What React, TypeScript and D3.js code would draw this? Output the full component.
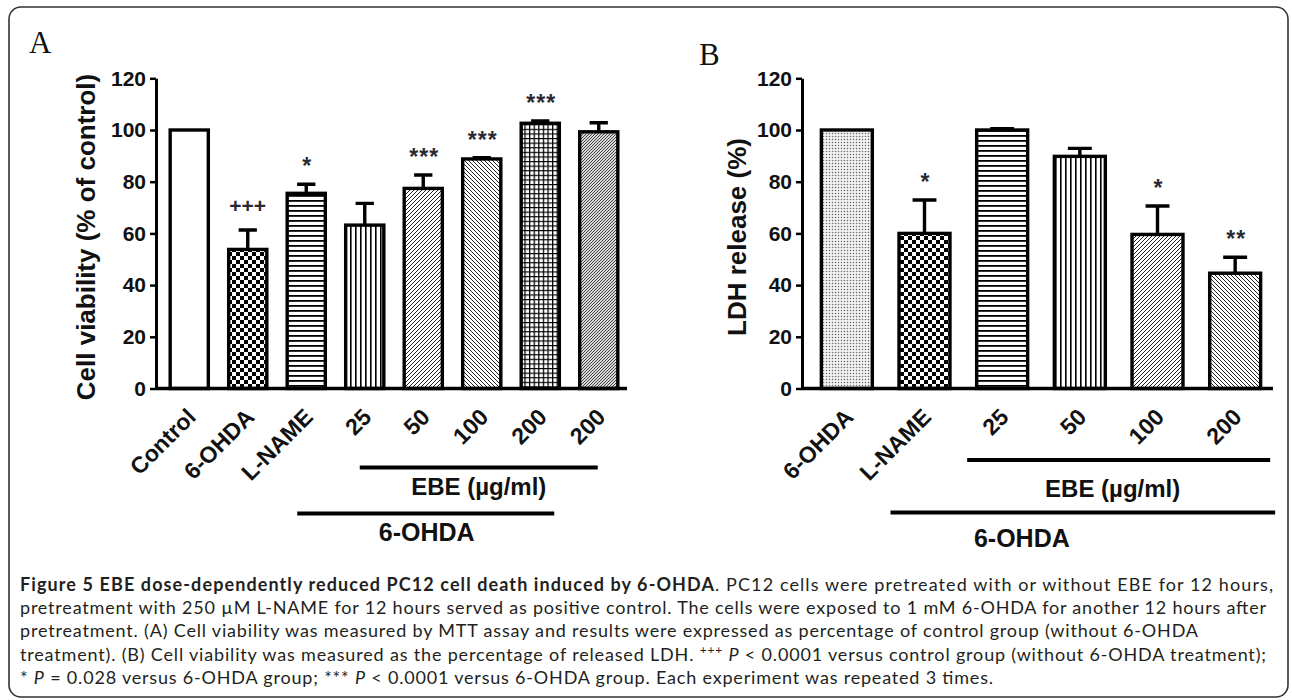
import React, { useEffect, useRef } from 'react'
import * as d3 from 'd3'

// panel A: cell viability (% of control)
const groupsA = ['Control', '6-OHDA', 'L-NAME', '25', '50', '100', '200', '200']
const viability = [100, 53.8, 75.5, 63.2, 77.4, 88.8, 102.6, 99.3]
const viabilitySem = [0, 7.5, 3.5, 8.4, 5.2, 0.5, 0.9, 3.5]
const marksA = ['', '+++', '*', '', '***', '***', '***', '']

// panel B: LDH release (%)
const groupsB = ['6-OHDA', 'L-NAME', '25', '50', '100', '200']
const ldhRelease = [100, 60, 100, 89.8, 59.6, 44.6]
const ldhSem = [0, 12.9, 0.5, 3.1, 11, 6.2]
const marksB = ['', '*', '', '', '*', '**']

const yTicks = [0, 20, 40, 60, 80, 100, 120]

// fill pattern of each bar
const fillsA = ['white', 'checker', 'hlines', 'vlines', 'diagUp', 'diagDown', 'grid', 'fineDiag']
const fillsB = ['dots', 'checker', 'hlines', 'vlines', 'diagUp', 'diagDown']

const SANS = '"Liberation Sans", Arial, sans-serif'
const INK = '#111'

interface PanelOpts {
    letter: string
    letterX: number
    letterY: number
    title: string
    titleX: number
    groups: string[]
    values: number[]
    sem: number[]
    marks: string[]
    fills: string[]
    axisX: number
    xRange: [number, number]
    axisEnd: number
    padInner: number
    ebe: [number, number, number] // first idx, last idx, y
    ebeOffsets: [number, number]
    ebeTextY: number
    ebeTextDx: number
    ohda: [number, number, number]
    ohdaOffsets: [number, number]
    ohdaTextY: number
    ohdaTextDx: number
}

function addPatterns(defs: d3.Selection<SVGDefsElement, unknown, null, undefined>) {
    const pat = (id: string, w: number, h: number) => {
        const p = defs
            .append('pattern')
            .attr('id', id)
            .attr('patternUnits', 'userSpaceOnUse')
            .attr('width', w)
            .attr('height', h)
        p.append('rect').attr('width', w).attr('height', h).attr('fill', '#fff')
        return p
    }
    pat('white', 4, 4)

    const checker = pat('checker', 8, 8)
    checker.append('rect').attr('width', 4).attr('height', 4).attr('fill', '#000')
    checker.append('rect').attr('x', 4).attr('y', 4).attr('width', 4).attr('height', 4).attr('fill', '#000')

    const h = pat('hlines', 5, 5)
    h.append('rect').attr('width', 5).attr('height', 1.8).attr('fill', '#000')

    const v = pat('vlines', 5, 5)
    v.append('rect').attr('width', 1.6).attr('height', 5).attr('fill', '#000')

    const up = pat('diagUp', 4, 4)
    up.append('path').attr('d', 'M-1,1 l2,-2 M0,4 l4,-4 M3,5 l2,-2').attr('stroke', '#222').attr('stroke-width', 1)

    const down = pat('diagDown', 4, 4)
    down.append('path').attr('d', 'M-1,3 l2,2 M0,0 l4,4 M3,-1 l2,2').attr('stroke', '#222').attr('stroke-width', 1)

    const grid = pat('grid', 4.6, 4.6)
    grid.append('path').attr('d', 'M0,0.6 H4.6 M0.6,0 V4.6').attr('stroke', '#000').attr('stroke-width', 1.3)

    const fine = pat('fineDiag', 3, 3)
    fine.select('rect').attr('fill', '#d8d8d8')
    fine.append('path').attr('d', 'M-1,1 l2,-2 M0,3 l3,-3 M2,4 l2,-2').attr('stroke', '#333').attr('stroke-width', 0.9)

    const dots = pat('dots', 3, 3)
    dots.select('rect').attr('fill', '#f2f2f2')
    dots.append('circle').attr('cx', 1.5).attr('cy', 1.5).attr('r', 0.75).attr('fill', '#666')
}

function drawPanel(svg: d3.Selection<SVGGElement, unknown, null, undefined>, o: PanelOpts) {
    const y = d3.scaleLinear().domain([0, 120]).range([388.5, 78.3])
    const x = d3
        .scaleBand<number>()
        .domain(d3.range(o.groups.length))
        .range(o.xRange)
        .paddingInner(o.padInner)
        .paddingOuter(o.padInner / 2)
    const bw = x.bandwidth()
    const cx = (i: number) => (x(i) ?? 0) + bw / 2

    const g = svg.append('g')

    // panel letter
    g.append('text')
        .attr('x', o.letterX)
        .attr('y', o.letterY)
        .attr('font-family', '"Liberation Serif", "Times New Roman", serif')
        .attr('font-size', 31)
        .attr('fill', INK)
        .text(o.letter)

    // y axis
    const yAxis = d3.axisLeft(y).tickValues(yTicks).tickSize(6).tickSizeOuter(0).tickPadding(4)
    const ag = g.append('g').attr('transform', `translate(${o.axisX},0)`).call(yAxis)
    ag.select('.domain').attr('stroke', '#000').attr('stroke-width', 3)
    ag.selectAll('.tick line').attr('stroke', '#000').attr('stroke-width', 2.5)
    ag.selectAll('.tick text')
        .attr('font-family', SANS)
        .attr('font-weight', 'bold')
        .attr('font-size', 21)
        .attr('fill', INK)

    // y title
    g.append('text')
        .attr('transform', `translate(${o.titleX},${(78 + 388) / 2 + 4}) rotate(-90)`)
        .attr('text-anchor', 'middle')
        .attr('font-family', SANS)
        .attr('font-weight', 'bold')
        .attr('font-size', 26)
        .attr('fill', INK)
        .text(o.title)

    // error bars
    const idx = d3.range(o.groups.length).filter((i) => o.sem[i] > 0)
    g.selectAll('.err')
        .data(idx)
        .enter()
        .append('path')
        .attr('d', (i) => {
            const top = y(o.values[i] + o.sem[i])
            return `M${cx(i)},${y(o.values[i])} V${top} M${cx(i) - bw * 0.22},${top} H${cx(i) + bw * 0.22}`
        })
        .attr('stroke', '#000')
        .attr('stroke-width', 3.4)
        .attr('fill', 'none')

    // bars
    g.selectAll('.bar')
        .data(o.values)
        .enter()
        .append('rect')
        .attr('x', (_, i) => (x(i) ?? 0) + 1.7)
        .attr('y', (d) => y(d))
        .attr('width', bw - 3.4)
        .attr('height', (d) => y(0) - y(d))
        .attr('fill', (_, i) => `url(#${o.fills[i]})`)
        .attr('stroke', '#000')
        .attr('stroke-width', 3.4)

    // significance marks
    const isPlus = (i: number) => o.marks[i].startsWith('+')
    g.selectAll('.mark')
        .data(d3.range(o.groups.length).filter((i) => o.marks[i]))
        .enter()
        .append('text')
        .attr('x', (i) => cx(i) + (isPlus(i) ? 0 : 1))
        .attr('y', (i) => y(o.values[i] + o.sem[i]) - (isPlus(i) ? 17 : 10))
        .attr('text-anchor', 'middle')
        .attr('font-family', SANS)
        .attr('font-weight', 'bold')
        .attr('font-size', (i) => (isPlus(i) ? 21 : 23))
        .attr('letter-spacing', (i) => (isPlus(i) ? 0 : 1))
        .attr('fill', '#2a2a33')
        .text((i) => o.marks[i])

    // x axis line
    g.append('line')
        .attr('x1', o.axisX)
        .attr('x2', o.axisEnd)
        .attr('y1', y(0))
        .attr('y2', y(0))
        .attr('stroke', '#000')
        .attr('stroke-width', 3.4)

    // x labels, rotated
    g.selectAll('.xl')
        .data(o.groups)
        .enter()
        .append('text')
        .attr('transform', (_, i) => `translate(${cx(i) + 8},${y(0) + 30}) rotate(-45)`)
        .attr('text-anchor', 'end')
        .attr('font-family', SANS)
        .attr('font-weight', 'bold')
        .attr('font-size', 23)
        .attr('fill', INK)
        .text((d) => d)

    // group brackets
    const [e0, e1, ey] = o.ebe
    g.append('line')
        .attr('x1', cx(e0) + o.ebeOffsets[0])
        .attr('x2', cx(e1) + o.ebeOffsets[1])
        .attr('y1', ey)
        .attr('y2', ey)
        .attr('stroke', '#000')
        .attr('stroke-width', 4)
    g.append('text')
        .attr('x', (cx(e0) + o.ebeOffsets[0] + cx(e1) + o.ebeOffsets[1]) / 2 + o.ebeTextDx)
        .attr('y', o.ebeTextY)
        .attr('text-anchor', 'middle')
        .attr('font-family', SANS)
        .attr('font-weight', 'bold')
        .attr('font-size', 24)
        .attr('fill', INK)
        .text('EBE (µg/ml)')

    const [h0, h1, hy] = o.ohda
    g.append('line')
        .attr('x1', cx(h0) + o.ohdaOffsets[0])
        .attr('x2', cx(h1) + o.ohdaOffsets[1])
        .attr('y1', hy)
        .attr('y2', hy)
        .attr('stroke', '#000')
        .attr('stroke-width', 4)
    g.append('text')
        .attr('x', (cx(h0) + o.ohdaOffsets[0] + cx(h1) + o.ohdaOffsets[1]) / 2 + o.ohdaTextDx)
        .attr('y', o.ohdaTextY)
        .attr('text-anchor', 'middle')
        .attr('font-family', SANS)
        .attr('font-weight', 'bold')
        .attr('font-size', 25)
        .attr('fill', INK)
        .text('6-OHDA')
}

export default function App() {
    const svgRef = useRef<SVGSVGElement>(null)

    useEffect(() => {
        if (!svgRef.current) return
        const svg = d3.select(svgRef.current)
        svg.select('g.charts').remove()
        const root = svg.append('g').attr('class', 'charts')
        addPatterns(root.append('defs'))

        drawPanel(root, {
            letter: 'A',
            letterX: 29,
            letterY: 53,
            title: 'Cell viability (% of control)',
            titleX: 95,
            groups: groupsA,
            values: viability,
            sem: viabilitySem,
            marks: marksA,
            fills: fillsA,
            axisX: 156,
            xRange: [160, 628],
            axisEnd: 627,
            padInner: 0.29,
            ebe: [3, 7, 467.5],
            ebeOffsets: [-5, -1],
            ebeTextY: 495,
            ebeTextDx: 0,
            ohda: [2, 6, 513.5],
            ohdaOffsets: [-9, 14],
            ohdaTextY: 541,
            ohdaTextDx: 1,
        })

        drawPanel(root, {
            letter: 'B',
            letterX: 699,
            letterY: 65,
            title: 'LDH release (%)',
            titleX: 746,
            groups: groupsB,
            values: ldhRelease,
            sem: ldhSem,
            marks: marksB,
            fills: fillsB,
            axisX: 802,
            xRange: [808, 1274],
            axisEnd: 1273,
            padInner: 0.3,
            ebe: [2, 5, 460],
            ebeOffsets: [-35, 35],
            ebeTextY: 497,
            ebeTextDx: -6,
            ohda: [1, 5, 512.5],
            ohdaOffsets: [-34, 40],
            ohdaTextY: 547,
            ohdaTextDx: -61,
        })
    }, [])

    const cap = { fontFamily: 'Lato, "Open Sans", sans-serif', fontSize: 18, fill: '#231f20' }
    const x0 = 20
    return (
        <svg
            ref={svgRef}
            width={1292}
            height={700}
            style={{ position: 'absolute', left: 0, top: 0, background: '#fff' }}
        >
            <rect x={9} y={7} width={1279} height={690} rx={12} fill="none" stroke="#333" strokeWidth={1.6} />
            <text x={x0} y={591} {...cap} textLength={1253} lengthAdjust="spacing">
                <tspan fontWeight="bold">
                    Figure 5 EBE dose-dependently reduced PC12 cell death induced by 6-OHDA
                </tspan>
                . PC12 cells were pretreated with or without EBE for 12 hours,
            </text>
            <text x={x0} y={614} {...cap} textLength={1246} lengthAdjust="spacing">
                pretreatment with 250 µM L-NAME for 12 hours served as positive control. The cells were
                exposed to 1 mM 6-OHDA for another 12 hours after
            </text>
            <text x={x0} y={637} {...cap} textLength={1178} lengthAdjust="spacing">
                pretreatment. (A) Cell viability was measured by MTT assay and results were expressed as
                percentage of control group (without 6-OHDA
            </text>
            <text x={x0} y={661} {...cap} textLength={1246} lengthAdjust="spacing">
                treatment). (B) Cell viability was measured as the percentage of released LDH.{' '}
                <tspan fontSize={12} dy={-7}>
                    +++
                </tspan>
                <tspan dy={7}> </tspan>
                <tspan fontStyle="italic">P</tspan> &lt; 0.0001 versus control group (without 6-OHDA
                treatment);
            </text>
            <text x={x0} y={684} {...cap} textLength={973} lengthAdjust="spacing">
                * <tspan fontStyle="italic">P</tspan> = 0.028 versus 6-OHDA group; ***{' '}
                <tspan fontStyle="italic">P</tspan> &lt; 0.0001 versus 6-OHDA group. Each experiment was
                repeated 3 times.
            </text>
        </svg>
    )
}
